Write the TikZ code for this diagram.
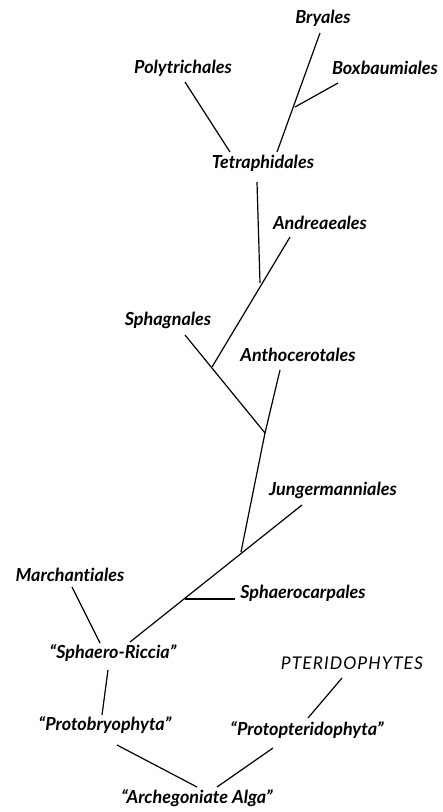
\documentclass[tikz,border=0pt]{standalone}
\usepackage{fontspec}
\setmainfont{Lato}[Ligatures=NoCommon]
\usepackage{tikz}

\begin{document}
\begin{tikzpicture}[x=1pt, y=-1pt, line width=1.2pt,
    taxon/.style={font=\fontsize{18}{20}\selectfont\bfseries\itshape, inner sep=0pt},
    group/.style={font=\fontsize{17.5}{20}\selectfont\itshape\addfontfeature{LetterSpace=6}, inner sep=0pt}]

    \useasboundingbox (0,0) rectangle (443,812);

    % --- LABELS ---
    \node[taxon] (bry)    at (323,18)  {Bryales};
    \node[taxon] (poly)   at (183,68)  {Polytrichales};
    \node[taxon] (box)    at (385,68)  {Boxbaumiales};
    \node[taxon] (tetra)  at (263,163) {Tetraphidales};
    \node[taxon] (andr)   at (320,223) {Andreaeales};
    \node[taxon] (sphag)  at (168,320) {Sphagnales};
    \node[taxon] (antho)  at (298,355) {Anthocerotales};
    \node[taxon] (junger) at (333,490) {Jungermanniales};
    \node[taxon] (march)  at (70,575)  {Marchantiales};
    \node[taxon] (sphaer) at (303,593) {Sphaerocarpales};
    \node[taxon] (riccia) at (113,653) {``Sphaero-Riccia''};
    \node[group] (pter)   at (352,663) {PTERIDOPHYTES};
    \node[taxon] (protob) at (105,725) {``Protobryophyta''};
    \node[taxon] (protop) at (307,730) {``Protopteridophyta''};
    \node[taxon] (alga)   at (197,798) {``Archegoniate Alga''};

    % --- ENDS AND FORKS ---
    \coordinate (bry-e)    at (320,33);
    \coordinate (box-e)    at (338,83);
    \coordinate (box-f)    at (295,107);
    \coordinate (poly-e)   at (185,82);
    \coordinate (tetra-l)  at (230,152);
    \coordinate (tetra-r)  at (277,152);
    \coordinate (tetra-b)  at (257,182);
    \coordinate (andr-e)   at (290,237);
    \coordinate (andr-f)   at (260,283);
    \coordinate (sphag-e)  at (185,335);
    \coordinate (sphag-f)  at (212,367);
    \coordinate (antho-e)  at (280,370);
    \coordinate (antho-f)  at (265,433);
    \coordinate (junger-e) at (302,505);
    \coordinate (junger-f) at (241,552);
    \coordinate (sphaer-e) at (235,599);
    \coordinate (sphaer-f) at (185,599);
    \coordinate (riccia-r) at (130,642);
    \coordinate (march-e)  at (72,587);
    \coordinate (riccia-t) at (100,643);
    \coordinate (riccia-b) at (108,670);
    \coordinate (protob-t) at (102,715);
    \coordinate (pter-e)   at (342,678);
    \coordinate (protop-t) at (308,718);
    \coordinate (protob-b) at (117,745);
    \coordinate (protop-b) at (273,748);
    \coordinate (alga-l)   at (197,787);
    \coordinate (alga-r)   at (217,787);

    % --- BRANCHES ---
    \draw (poly-e) -- (tetra-l);
    \draw (bry-e) -- (tetra-r);
    \draw (box-f) -- (box-e);
    \draw (tetra-b) -- (andr-f);
    \draw (andr-e) -- (sphag-f);
    \draw (sphag-e) -- (antho-f);
    \draw (antho-e) -- (antho-f) -- (junger-f);
    \draw (junger-e) -- (riccia-r);
    \draw (sphaer-f) -- (sphaer-e);
    \draw (march-e) -- (riccia-t);
    \draw (riccia-b) -- (protob-t);
    \draw (pter-e) -- (protop-t);
    \draw (protob-b) -- (alga-l);
    \draw (protop-b) -- (alga-r);

\end{tikzpicture}
\end{document}
